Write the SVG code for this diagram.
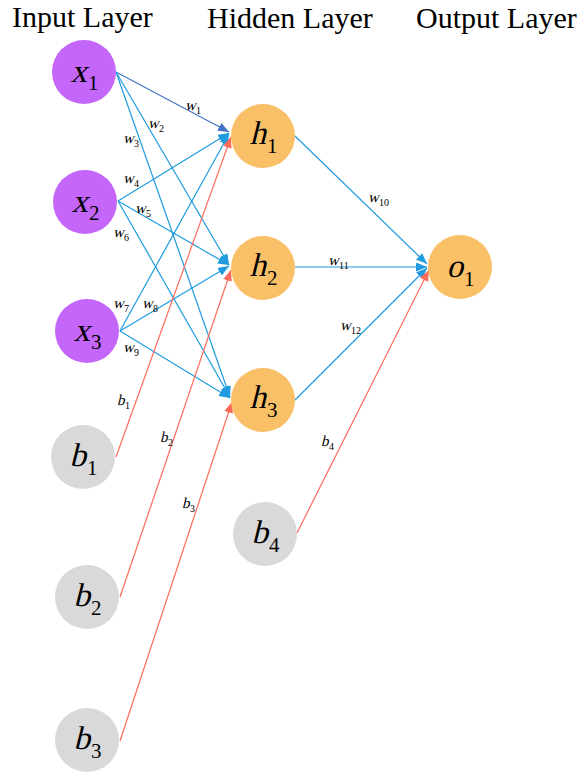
<svg xmlns="http://www.w3.org/2000/svg" width="584" height="775" viewBox="0 0 584 775">
<style>
.title{font-family:"Liberation Serif",serif;font-size:30px;fill:#000}
.in{fill:#C466F9}
.hid{fill:#F9C068}
.bias{fill:#D9D9D9}
.it{font-family:"Liberation Serif",serif;font-size:33px;fill:#000;text-anchor:end}
.sb{font-family:"Liberation Serif",serif;font-size:21px;fill:#000}
.wi{font-family:"Liberation Serif",serif;font-size:15px;fill:#000}
.ws{font-family:"Liberation Serif",serif;font-size:10px;fill:#000}
.bl{stroke:#1F9BDE;stroke-width:1.2;fill:none;marker-end:url(#ab)}
.db{stroke:#4472C4;stroke-width:1.2;fill:none;marker-end:url(#ad)}
.rd{stroke:#FF6B5B;stroke-width:1.2;fill:none;marker-end:url(#ar)}
</style>
<defs>
<marker id="ab" markerUnits="userSpaceOnUse" markerWidth="12" markerHeight="10" refX="11" refY="4.5" orient="auto"><path d="M0,0 L11,4.5 L0,9 z" fill="#1F9BDE"/></marker>
<marker id="ad" markerUnits="userSpaceOnUse" markerWidth="12" markerHeight="10" refX="11" refY="4.5" orient="auto"><path d="M0,0 L11,4.5 L0,9 z" fill="#4472C4"/></marker>
<marker id="ar" markerUnits="userSpaceOnUse" markerWidth="12" markerHeight="10" refX="11" refY="4.5" orient="auto"><path d="M0,0 L11,4.5 L0,9 z" fill="#FF6B5B"/></marker>
</defs>
<rect width="584" height="775" fill="#fff"/>
<text class="title" x="12" y="27">Input Layer</text>
<text class="title" x="207" y="28">Hidden Layer</text>
<text class="title" x="416" y="28">Output Layer</text>

<g id="connectors">
<line class="db" x1="116" y1="72" x2="229" y2="132"/>
<line class="bl" x1="116" y1="72" x2="229" y2="265"/>
<line class="bl" x1="116" y1="72" x2="230" y2="397"/>
<line class="bl" x1="118" y1="201" x2="229" y2="133"/>
<line class="bl" x1="118" y1="201" x2="229" y2="265"/>
<line class="bl" x1="118" y1="201" x2="230" y2="397"/>
<line class="bl" x1="120" y1="331" x2="229" y2="134"/>
<line class="bl" x1="120" y1="331" x2="229" y2="266"/>
<line class="bl" x1="120" y1="331" x2="230" y2="398"/>
<line class="rd" x1="116" y1="457" x2="231" y2="137"/>
<line class="rd" x1="120" y1="597" x2="231" y2="270"/>
<line class="rd" x1="120" y1="741" x2="232" y2="402"/>
<line class="bl" x1="295" y1="136" x2="427" y2="264"/>
<line class="bl" x1="295" y1="267" x2="427" y2="267"/>
<line class="bl" x1="295" y1="400" x2="427" y2="268"/>
<line class="rd" x1="297" y1="533" x2="429" y2="270"/>
<g transform="translate(185,110)"><text class="wi" transform="skewX(-14)">w</text><text class="ws" x="11" y="4">1</text></g>
<g transform="translate(148,128)"><text class="wi" transform="skewX(-14)">w</text><text class="ws" x="11" y="4">2</text></g>
<g transform="translate(123,143)"><text class="wi" transform="skewX(-14)">w</text><text class="ws" x="11" y="4">3</text></g>
<g transform="translate(123,183)"><text class="wi" transform="skewX(-14)">w</text><text class="ws" x="11" y="4">4</text></g>
<g transform="translate(135,213)"><text class="wi" transform="skewX(-14)">w</text><text class="ws" x="11" y="4">5</text></g>
<g transform="translate(113,237)"><text class="wi" transform="skewX(-14)">w</text><text class="ws" x="11" y="4">6</text></g>
<g transform="translate(113,308)"><text class="wi" transform="skewX(-14)">w</text><text class="ws" x="11" y="4">7</text></g>
<g transform="translate(142,308)"><text class="wi" transform="skewX(-14)">w</text><text class="ws" x="11" y="4">8</text></g>
<g transform="translate(123,352)"><text class="wi" transform="skewX(-14)">w</text><text class="ws" x="11" y="4">9</text></g>
<g transform="translate(117,405)"><text class="wi" transform="skewX(-14)">b</text><text class="ws" x="8" y="4">1</text></g>
<g transform="translate(160,442)"><text class="wi" transform="skewX(-14)">b</text><text class="ws" x="8" y="4">2</text></g>
<g transform="translate(182,508)"><text class="wi" transform="skewX(-14)">b</text><text class="ws" x="8" y="4">3</text></g>
<g transform="translate(321,446)"><text class="wi" transform="skewX(-14)">b</text><text class="ws" x="8" y="4">4</text></g>
<g transform="translate(368,202)"><text class="wi" transform="skewX(-14)">w</text><text class="ws" x="11" y="4">10</text></g>
<g transform="translate(328,265)"><text class="wi" transform="skewX(-14)">w</text><text class="ws" x="11" y="4">11</text></g>
<g transform="translate(340,330)"><text class="wi" transform="skewX(-14)">w</text><text class="ws" x="11" y="4">12</text></g>
</g>

<g id="x1"><circle class="in" cx="84" cy="72" r="32"/><g transform="translate(84,82)"><text class="it" transform="skewX(-14)" x="3">x</text><text class="sb" x="4" y="8">1</text></g></g>
<g id="x2"><circle class="in" cx="85" cy="202" r="32"/><g transform="translate(85,212)"><text class="it" transform="skewX(-14)" x="3">x</text><text class="sb" x="4" y="8">2</text></g></g>
<g id="x3"><circle class="in" cx="87" cy="331" r="32"/><g transform="translate(87,341)"><text class="it" transform="skewX(-14)" x="3">x</text><text class="sb" x="4" y="8">3</text></g></g>
<g id="b1"><circle class="bias" cx="83" cy="457" r="32"/><g transform="translate(83,466)"><text class="it" transform="skewX(-14)" x="3">b</text><text class="sb" x="4" y="9">1</text></g></g>
<g id="b2"><circle class="bias" cx="87" cy="597" r="32"/><g transform="translate(87,606)"><text class="it" transform="skewX(-14)" x="3">b</text><text class="sb" x="4" y="9">2</text></g></g>
<g id="b3"><circle class="bias" cx="87" cy="740" r="32"/><g transform="translate(87,749)"><text class="it" transform="skewX(-14)" x="3">b</text><text class="sb" x="4" y="9">3</text></g></g>
<g id="h1"><circle class="hid" cx="263" cy="136" r="32"/><g transform="translate(263,144)"><text class="it" transform="skewX(-14)" x="3">h</text><text class="sb" x="4" y="9">1</text></g></g>
<g id="h2"><circle class="hid" cx="263" cy="268" r="32"/><g transform="translate(263,276)"><text class="it" transform="skewX(-14)" x="3">h</text><text class="sb" x="4" y="9">2</text></g></g>
<g id="h3"><circle class="hid" cx="263" cy="400" r="32"/><g transform="translate(263,408)"><text class="it" transform="skewX(-14)" x="3">h</text><text class="sb" x="4" y="9">3</text></g></g>
<g id="b4"><circle class="bias" cx="265" cy="534" r="32"/><g transform="translate(265,543)"><text class="it" transform="skewX(-14)" x="3">b</text><text class="sb" x="4" y="9">4</text></g></g>
<g id="o1"><circle class="hid" cx="460" cy="267" r="32"/><g transform="translate(460,277)"><text class="it" transform="skewX(-14)" x="3">o</text><text class="sb" x="4" y="9">1</text></g></g>
</svg>
